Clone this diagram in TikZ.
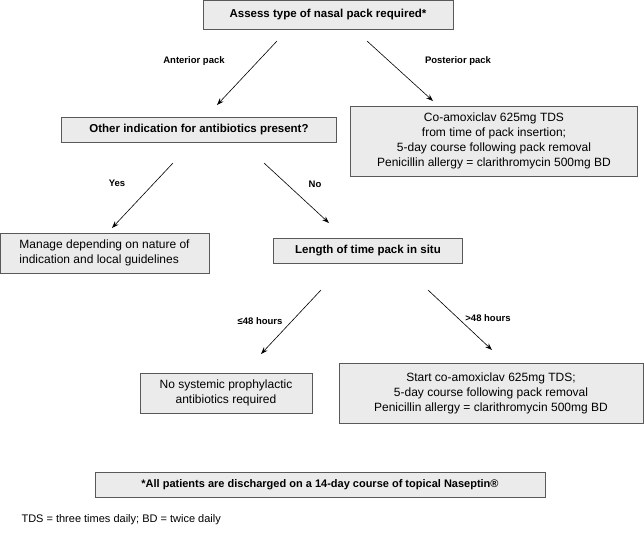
\documentclass[tikz,border=0pt]{standalone}
\usepackage{fontspec}
\setmainfont{Liberation Sans}
\usetikzlibrary{arrows.meta}
\begin{document}
\begin{tikzpicture}[x=1pt,y=-1pt,
    box/.style={draw=black!65, fill=black!8, line width=0.6pt, align=center, inner sep=2pt},
    head/.style={box, font=\bfseries\fontsize{11.5}{14}\selectfont},
    body/.style={box, font=\fontsize{12}{15}\selectfont},
    lab/.style={font=\bfseries\fontsize{9.5}{11}\selectfont},
    arr/.style={-{Stealth[length=7pt,width=5pt]}, line width=0.6pt}]
    \useasboundingbox (0,0) rectangle (644,539);
    % Boxes
    \node[head, minimum width=250, minimum height=29] (assess) at (328,15) {Assess type of nasal pack required*};
    \node[head, minimum width=275, minimum height=25] (other) at (199,130) {Other indication for antibiotics present?};
    \node[body, minimum width=287, minimum height=70] (posterior) at (494,141) {Co-amoxiclav 625mg TDS\\from time of pack insertion;\\5-day course following pack removal\\Penicillin allergy = clarithromycin 500mg BD};
    \node[body, align=left, minimum width=209, minimum height=40] (manage) at (104.5,253) {Manage depending on nature of\\indication and local guidelines};
    \node[head, minimum width=189, minimum height=25] (length) at (368,251) {Length of time pack in situ};
    \node[body, minimum width=172, minimum height=40] (nosys) at (226,393) {No systemic prophylactic\\antibiotics required};
    \node[body, minimum width=304, minimum height=60] (start) at (491,393) {Start co-amoxiclav 625mg TDS;\\5-day course following pack removal\\Penicillin allergy = clarithromycin 500mg BD};
    \node[box, font=\bfseries\fontsize{11}{13}\selectfont, minimum width=450, minimum height=25] (note) at (320,485) {*All patients are discharged on a 14-day course of topical Naseptin®};
    \node[anchor=west, font=\fontsize{11}{13}\selectfont] (abbr) at (18,520) {TDS = three times daily; BD = twice daily};

    % Arrow ends
    \coordinate (a1) at (277,41);  \coordinate (a2) at (217,105);
    \coordinate (p1) at (367,41);  \coordinate (p2) at (433,101);
    \coordinate (y1) at (173,163); \coordinate (y2) at (112,228);
    \coordinate (n1) at (264,163); \coordinate (n2) at (329,223);
    \coordinate (s1) at (321,290); \coordinate (s2) at (261,354);
    \coordinate (l1) at (428,290); \coordinate (l2) at (492,350);

    \draw[arr] (a1) -- (a2);
    \draw[arr] (p1) -- (p2);
    \draw[arr] (y1) -- (y2);
    \draw[arr] (n1) -- (n2);
    \draw[arr] (s1) -- (s2);
    \draw[arr] (l1) -- (l2);

    % Labels
    \node[lab] (anterior) at (194,61) {Anterior pack};
    \node[lab] (postlab) at (458,61) {Posterior pack};
    \node[lab] (yes) at (117,183) {Yes};
    \node[lab] (no) at (315,184) {No};
    \node[lab] (short) at (260,321) {≤48 hours};
    \node[lab] (long) at (488,318) {>48 hours};
\end{tikzpicture}
\end{document}
